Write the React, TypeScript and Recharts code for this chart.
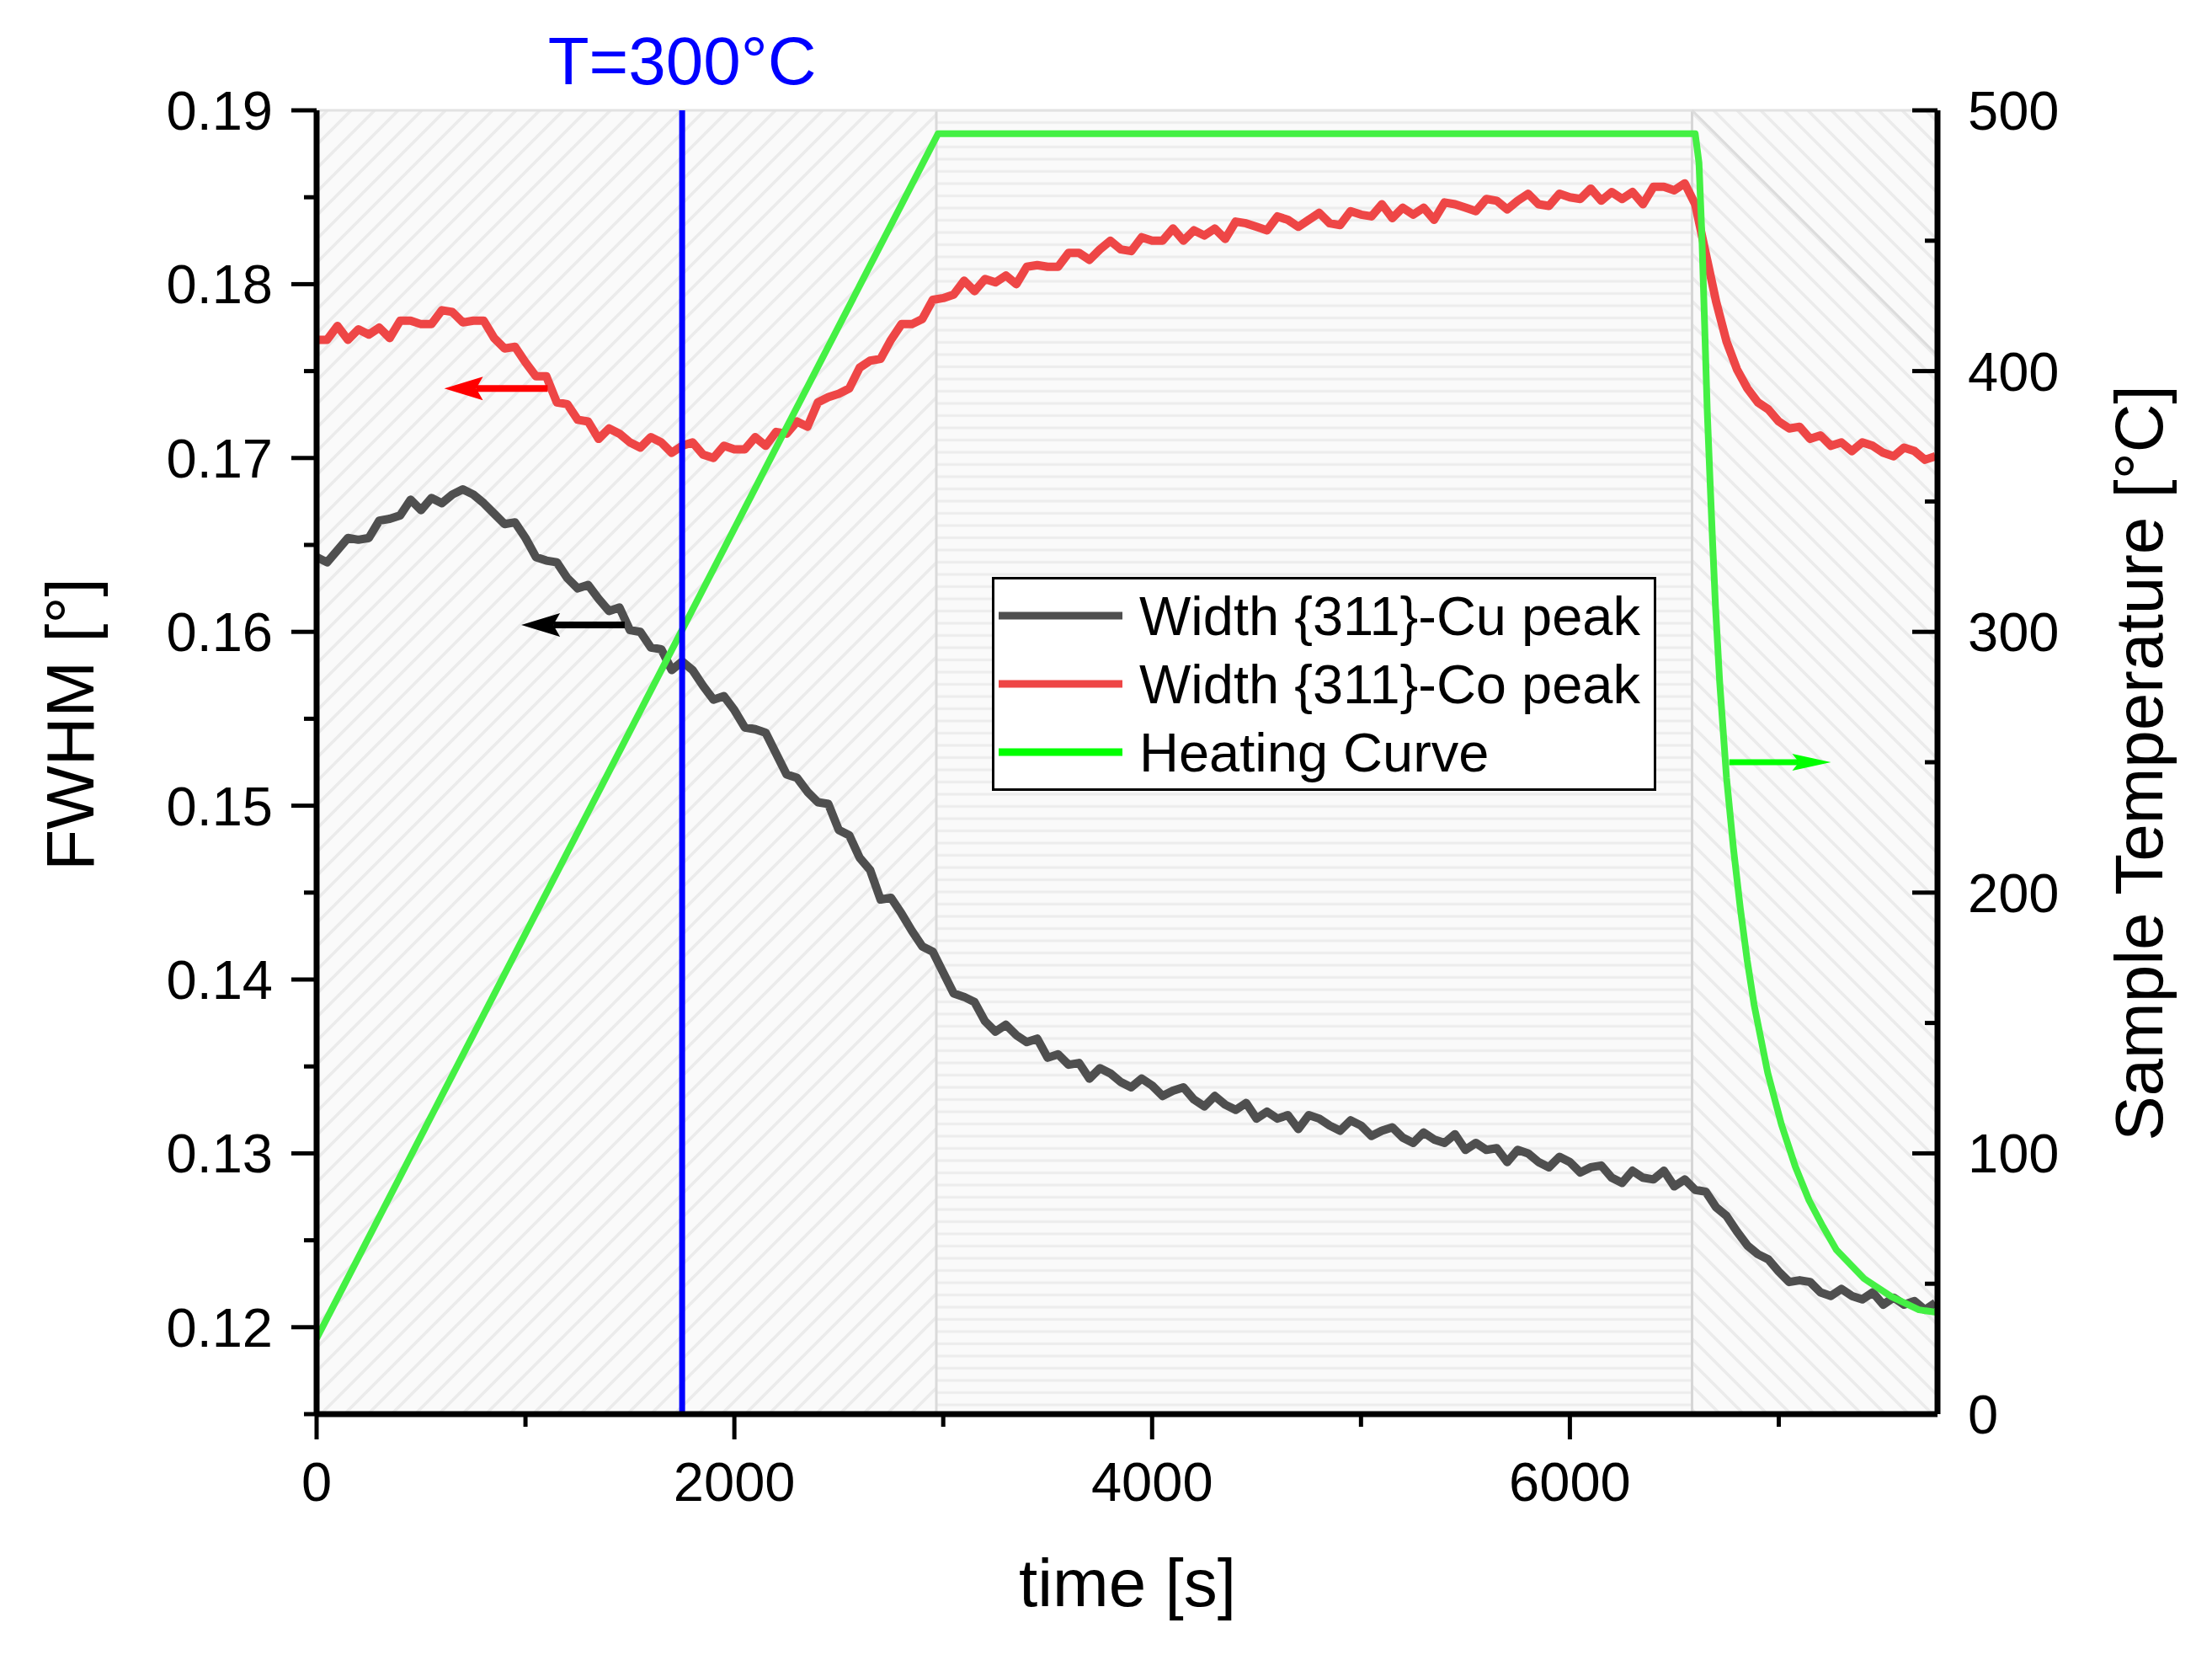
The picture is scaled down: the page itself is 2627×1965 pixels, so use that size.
import React from 'react';
import {
  ComposedChart,
  Line,
  XAxis,
  YAxis,
  ReferenceArea,
  ReferenceLine,
  Legend,
} from 'recharts';

// ---------- data ----------
const TIME_S = [
  0, 50, 100, 150, 200, 250, 300, 350, 400, 450, 500, 550, 600, 650, 700, 750, 800, 850, 900, 950,
  1000, 1050, 1100, 1150, 1200, 1250, 1300, 1350, 1400, 1450, 1500, 1550, 1600, 1650, 1700, 1750, 1800, 1850, 1900, 1950,
  2000, 2050, 2100, 2150, 2200, 2250, 2300, 2350, 2400, 2450, 2500, 2550, 2600, 2650, 2700, 2750, 2800, 2850, 2900, 2950,
  3000, 3050, 3100, 3150, 3200, 3250, 3300, 3350, 3400, 3450, 3500, 3550, 3600, 3650, 3700, 3750, 3800, 3850, 3900, 3950,
  4000, 4050, 4100, 4150, 4200, 4250, 4300, 4350, 4400, 4450, 4500, 4550, 4600, 4650, 4700, 4750, 4800, 4850, 4900, 4950,
  5000, 5050, 5100, 5150, 5200, 5250, 5300, 5350, 5400, 5450, 5500, 5550, 5600, 5650, 5700, 5750, 5800, 5850, 5900, 5950,
  6000, 6050, 6100, 6150, 6200, 6250, 6300, 6350, 6400, 6450, 6500, 6550, 6600, 6650, 6700, 6750, 6800, 6850, 6900, 6950,
  7000, 7050, 7100, 7150, 7200, 7250, 7300, 7350, 7400, 7450, 7500, 7550, 7600, 7650, 7700, 7750,
];

const CU_FWHM = [
  0.1643, 0.1640, 0.1647, 0.1654, 0.1653, 0.1654, 0.1664, 0.1665, 0.1667, 0.1676, 0.1670, 0.1677, 0.1674, 0.1679, 0.1682, 0.1679, 0.1674, 0.1668, 0.1662, 0.1663,
  0.1654, 0.1643, 0.1641, 0.1640, 0.1631, 0.1625, 0.1627, 0.1619, 0.1612, 0.1614, 0.1601, 0.1600, 0.1591, 0.1590, 0.1578, 0.1583, 0.1578, 0.1569, 0.1561, 0.1563,
  0.1555, 0.1545, 0.1544, 0.1542, 0.1530, 0.1518, 0.1516, 0.1508, 0.1502, 0.1501, 0.1486, 0.1483, 0.1470, 0.1463, 0.1446, 0.1447, 0.1438, 0.1428, 0.1419, 0.1416,
  0.1404, 0.1392, 0.1390, 0.1387, 0.1376, 0.1370, 0.1374, 0.1368, 0.1364, 0.1366, 0.1355, 0.1357, 0.1351, 0.1352, 0.1343, 0.1349, 0.1346, 0.1341, 0.1338, 0.1343,
  0.1339, 0.1333, 0.1336, 0.1338, 0.1331, 0.1327, 0.1333, 0.1328, 0.1325, 0.1329, 0.1320, 0.1324, 0.1320, 0.1322, 0.1314, 0.1322, 0.1320, 0.1316, 0.1313, 0.1319,
  0.1316, 0.1310, 0.1313, 0.1315, 0.1309, 0.1306, 0.1312, 0.1308, 0.1306, 0.1311, 0.1302, 0.1306, 0.1302, 0.1303, 0.1295, 0.1302, 0.1300, 0.1295, 0.1292, 0.1298,
  0.1295, 0.1289, 0.1292, 0.1293, 0.1286, 0.1283, 0.1290, 0.1286, 0.1285, 0.1290, 0.1281, 0.1285, 0.1279, 0.1278, 0.1269, 0.1264, 0.1255, 0.1247, 0.1242, 0.1239,
  0.1232, 0.1226, 0.1227, 0.1226, 0.1220, 0.1218, 0.1222, 0.1218, 0.1216, 0.1220, 0.1213, 0.1217, 0.1213, 0.1215, 0.1210, 0.1214,
];

const CO_FWHM = [
  0.1768, 0.1768, 0.1776, 0.1768, 0.1774, 0.1771, 0.1775, 0.1769, 0.1779, 0.1779, 0.1777, 0.1777, 0.1785, 0.1784, 0.1778, 0.1779, 0.1779, 0.1769, 0.1763, 0.1764,
  0.1755, 0.1747, 0.1747, 0.1732, 0.1731, 0.1722, 0.1721, 0.1711, 0.1717, 0.1714, 0.1709, 0.1706, 0.1712, 0.1709, 0.1703, 0.1707, 0.1709, 0.1702, 0.1700, 0.1707,
  0.1705, 0.1705, 0.1712, 0.1707, 0.1715, 0.1714, 0.1721, 0.1718, 0.1732, 0.1735, 0.1737, 0.1740, 0.1752, 0.1756, 0.1757, 0.1768, 0.1777, 0.1777, 0.1780, 0.1791,
  0.1792, 0.1794, 0.1802, 0.1796, 0.1803, 0.1801, 0.1805, 0.1800, 0.1810, 0.1811, 0.1810, 0.1810, 0.1818, 0.1818, 0.1814, 0.1820, 0.1825, 0.1820, 0.1819, 0.1827,
  0.1825, 0.1825, 0.1832, 0.1825, 0.1831, 0.1828, 0.1832, 0.1826, 0.1836, 0.1835, 0.1833, 0.1831, 0.1839, 0.1837, 0.1833, 0.1837, 0.1841, 0.1835, 0.1834, 0.1842,
  0.1840, 0.1839, 0.1846, 0.1838, 0.1844, 0.1840, 0.1844, 0.1837, 0.1847, 0.1846, 0.1844, 0.1842, 0.1849, 0.1848, 0.1843, 0.1848, 0.1852, 0.1846, 0.1845, 0.1852,
  0.1850, 0.1849, 0.1855, 0.1848, 0.1853, 0.1849, 0.1853, 0.1846, 0.1856, 0.1856, 0.1854, 0.1858, 0.1846, 0.1818, 0.1790, 0.1767, 0.1751, 0.1740, 0.1732, 0.1728,
  0.1721, 0.1717, 0.1718, 0.1711, 0.1713, 0.1707, 0.1709, 0.1704, 0.1709, 0.1707, 0.1703, 0.1701, 0.1706, 0.1704, 0.1699, 0.1701,
];

const HEAT_TIME_S = [
  0, 2975, 6600, 6618, 6631, 6645, 6658, 6671, 6684, 6697, 6717, 6750, 6783, 6816, 6849, 6882,
  6947, 7013, 7079, 7145, 7211, 7276, 7408, 7540, 7671, 7760,
];
const HEAT_TEMP_C = [
  29, 491, 491, 480, 454, 418, 384, 358, 333, 310, 281, 244, 217, 194, 174, 157,
  131, 111, 95, 82, 72, 63, 52, 45, 40, 39,
];

const X_TICKS = [0, 1000, 2000, 3000, 4000, 5000, 6000, 7000];
const X_LABELED = [0, 2000, 4000, 6000];
const FWHM_TICKS = [0.115, 0.12, 0.125, 0.13, 0.135, 0.14, 0.145, 0.15, 0.155, 0.16, 0.165, 0.17, 0.175, 0.18, 0.185, 0.19];
const TEMP_TICKS = [0, 50, 100, 150, 200, 250, 300, 350, 400, 450, 500];
const TEMP_LABELED = [0, 100, 200, 300, 400, 500];

const X_DOMAIN = [0, 7760];
const FWHM_DOMAIN = [0.115, 0.19];
const TEMP_DOMAIN = [0, 500];

// background regions (ramp, hold, cooling)
const REGION_EDGES_S = [0, 2967, 6585, 7760];
const MARK_TIME_S = 1750; // T = 300 °C

// annotation arrows: [tail, tip]
const ARROW_CO = [{ t: 1106, v: 0.174 }, { t: 611, v: 0.174 }];
const ARROW_CU = [{ t: 1475, v: 0.1604 }, { t: 980, v: 0.1604 }];
const ARROW_HEAT = [{ t: 6763, v: 250 }, { t: 7250, v: 250 }];

const SERIES_NAMES = ['Width {311}-Cu peak', 'Width {311}-Co peak', 'Heating Curve'];

// ---------- styling ----------
const FONT = '"Liberation Sans", Arial, Helvetica, sans-serif';
const W = 2611;
const H = 1949;
const PLOT_TOP = 123;
const LEFT_W = 368;
const RIGHT_W = 318;
const X_H = 278;

const cuData = TIME_S.map((t, i) => ({ t, v: CU_FWHM[i] }));
const coData = TIME_S.map((t, i) => ({ t, v: CO_FWHM[i] }));
const heatData = HEAT_TIME_S.map((t, i) => ({ t, v: HEAT_TEMP_C[i] }));

const LeftTick = (props: any) => {
  const { x, y, payload } = props;
  const v = payload.value;
  const major = Math.round(v * 1000) % 10 === 0;
  return (
    <g>
      <line x1={x} x2={x - (major ? 30 : 15)} y1={y} y2={y} stroke="#000" strokeWidth={5} />
      {major && (
        <text x={316} y={y} dy="0.355em" textAnchor="end" fontSize={65} fontFamily={FONT} fill="#000">
          {v.toFixed(2)}
        </text>
      )}
    </g>
  );
};

const RightTick = (props: any) => {
  const { x, y, payload } = props;
  const v = payload.value;
  const major = TEMP_LABELED.includes(v);
  return (
    <g>
      <line x1={x} x2={x - (major ? 30 : 15)} y1={y} y2={y} stroke="#000" strokeWidth={5} />
      {major && (
        <text x={2329} y={y} dy="0.355em" textAnchor="start" fontSize={65} fontFamily={FONT} fill="#000">
          {v}
        </text>
      )}
    </g>
  );
};

const BottomTick = (props: any) => {
  const { x, y, payload } = props;
  const v = payload.value;
  const major = X_LABELED.includes(v);
  return (
    <g>
      <line x1={x} x2={x} y1={y} y2={y + (major ? 30 : 15)} stroke="#000" strokeWidth={5} />
      {major && (
        <text x={x} y={1774} textAnchor="middle" fontSize={65} fontFamily={FONT} fill="#000">
          {v}
        </text>
      )}
    </g>
  );
};

const makeArrow = (color: string, head: number, half: number, shaft: number) => (props: any) => {
  const { x1, y1, x2, y2 } = props;
  const dx = x2 - x1;
  const dy = y2 - y1;
  const len = Math.sqrt(dx * dx + dy * dy) || 1;
  const ux = dx / len;
  const uy = dy / len;
  const px = -uy;
  const py = ux;
  const bx = x2 - ux * head;
  const by = y2 - uy * head;
  const nx = x2 - ux * (head - 8);
  const ny = y2 - uy * (head - 8);
  const pts = `${x2},${y2} ${bx + px * half},${by + py * half} ${nx},${ny} ${bx - px * half},${by - py * half}`;
  return (
    <g>
      <line x1={x1} y1={y1} x2={nx} y2={ny} stroke={color} strokeWidth={shaft} />
      <polygon points={pts} fill={color} />
    </g>
  );
};

const renderLegend = (props: any) => {
  const payload = [...(props.payload || [])].sort(
    (a: any, b: any) => SERIES_NAMES.indexOf(a.value) - SERIES_NAMES.indexOf(b.value)
  );
  const rows = [46, 127, 208];
  const swatch: Record<string, string> = { 'Heating Curve': '#00ff00' };
  return (
    <svg width={789} height={254} style={{ display: 'block' }}>
      <rect x={1.5} y={1.5} width={786} height={251} fill="#ffffff" stroke="#000" strokeWidth={3} />
      {payload.map((entry: any, i: number) => (
        <g key={entry.value}>
          <line x1={8} x2={155} y1={rows[i]} y2={rows[i]} stroke={swatch[entry.value] || entry.color} strokeWidth={9} />
          <text x={175} y={rows[i]} dy="0.355em" fontSize={65} fontFamily={FONT} fill="#000">
            {entry.value}
          </text>
        </g>
      ))}
    </svg>
  );
};

export default function App() {
  return (
    <ComposedChart width={W} height={H} margin={{ top: PLOT_TOP, right: 0, bottom: 0, left: 0 }}>
      <defs>
        <pattern id="hatchUp" patternUnits="userSpaceOnUse" width="28" height="28">
          <rect width="28" height="28" fill="#fafafa" />
          <path d="M-7,7 L7,-7 M0,28 L28,0 M21,35 L35,21" stroke="#ebebeb" strokeWidth="3.5" />
        </pattern>
        <pattern id="hatchFlat" patternUnits="userSpaceOnUse" width="20" height="14.5">
          <rect width="20" height="14.5" fill="#fafafa" />
          <line x1="0" x2="20" y1="7" y2="7" stroke="#ececec" strokeWidth="3" />
        </pattern>
        <pattern id="hatchDown" patternUnits="userSpaceOnUse" width="28" height="28">
          <rect width="28" height="28" fill="#fafafa" />
          <path d="M-7,21 L7,35 M0,0 L28,28 M21,-7 L35,7" stroke="#ebebeb" strokeWidth="3.5" />
        </pattern>
      </defs>

      <XAxis
        xAxisId="t"
        type="number"
        dataKey="t"
        domain={X_DOMAIN}
        allowDataOverflow
        ticks={X_TICKS}
        interval={0}
        height={X_H}
        tickSize={0}
        tickMargin={0}
        tickLine={false}
        axisLine={{ stroke: '#000', strokeWidth: 7 }}
        tick={BottomTick}
        label={() => (
          <text x={1331} y={1899} textAnchor="middle" fontSize={80} fontFamily={FONT} fill="#000">
            time [s]
          </text>
        )}
      />
      <YAxis
        yAxisId="fwhm"
        orientation="left"
        type="number"
        domain={FWHM_DOMAIN}
        allowDataOverflow
        ticks={FWHM_TICKS}
        interval={0}
        width={LEFT_W}
        tickSize={0}
        tickMargin={0}
        tickLine={false}
        axisLine={{ stroke: '#000', strokeWidth: 7 }}
        tick={LeftTick}
        label={() => (
          <text
            x={103}
            y={852}
            transform="rotate(-90 103 852)"
            textAnchor="middle"
            fontSize={80}
            fontFamily={FONT}
            fill="#000"
          >
            FWHM [°]
          </text>
        )}
      />
      <YAxis
        yAxisId="temp"
        orientation="right"
        type="number"
        domain={TEMP_DOMAIN}
        allowDataOverflow
        ticks={TEMP_TICKS}
        interval={0}
        width={RIGHT_W}
        tickSize={0}
        tickMargin={0}
        tickLine={false}
        axisLine={{ stroke: '#000', strokeWidth: 7 }}
        tick={RightTick}
        label={() => (
          <text
            x={2560}
            y={898}
            transform="rotate(-90 2560 898)"
            textAnchor="middle"
            fontSize={80}
            fontFamily={FONT}
            fill="#000"
          >
            Sample Temperature [°C]
          </text>
        )}
      />

      <ReferenceArea xAxisId="t" yAxisId="fwhm" x1={REGION_EDGES_S[0]} x2={REGION_EDGES_S[1]} fill="url(#hatchUp)" fillOpacity={1} stroke="none" />
      <ReferenceArea xAxisId="t" yAxisId="fwhm" x1={REGION_EDGES_S[1]} x2={REGION_EDGES_S[2]} fill="url(#hatchFlat)" fillOpacity={1} stroke="none" />
      <ReferenceArea xAxisId="t" yAxisId="fwhm" x1={REGION_EDGES_S[2]} x2={REGION_EDGES_S[3]} fill="url(#hatchDown)" fillOpacity={1} stroke="none" />
      <ReferenceLine xAxisId="t" yAxisId="fwhm" x={REGION_EDGES_S[1]} stroke="#dadada" strokeWidth={3} />
      <ReferenceLine xAxisId="t" yAxisId="fwhm" x={REGION_EDGES_S[2]} stroke="#d6d6d6" strokeWidth={3} />
      <ReferenceLine xAxisId="t" yAxisId="fwhm" y={FWHM_DOMAIN[1]} stroke="#e2e2e2" strokeWidth={3} />
      <ReferenceLine
        xAxisId="t"
        yAxisId="temp"
        segment={[{ x: REGION_EDGES_S[2], y: 500 }, { x: REGION_EDGES_S[3], y: 406 }]}
        stroke="#dcdcdc"
        strokeWidth={3}
      />

      <Line
        xAxisId="t"
        yAxisId="fwhm"
        data={cuData}
        dataKey="v"
        name={SERIES_NAMES[0]}
        stroke="#4f4f4f"
        strokeWidth={10}
        strokeLinejoin="round"
        dot={false}
        activeDot={false}
        isAnimationActive={false}
      />
      <Line
        xAxisId="t"
        yAxisId="fwhm"
        data={coData}
        dataKey="v"
        name={SERIES_NAMES[1]}
        stroke="#ee4646"
        strokeWidth={10}
        strokeLinejoin="round"
        dot={false}
        activeDot={false}
        isAnimationActive={false}
      />
      <Line
        xAxisId="t"
        yAxisId="temp"
        data={heatData}
        dataKey="v"
        name={SERIES_NAMES[2]}
        stroke="#44f044"
        strokeWidth={8}
        strokeLinejoin="round"
        dot={false}
        activeDot={false}
        isAnimationActive={false}
      />

      <ReferenceLine
        xAxisId="t"
        yAxisId="fwhm"
        x={MARK_TIME_S}
        stroke="#0000ff"
        strokeWidth={7}
        label={(p: any) => {
          const vb = p.viewBox || {};
          return (
            <text x={vb.x} y={92} textAnchor="middle" fontSize={80} fontFamily={FONT} fill="#0000ff">
              T=300°C
            </text>
          );
        }}
      />

      <ReferenceLine
        xAxisId="t"
        yAxisId="fwhm"
        segment={[{ x: ARROW_CO[0].t, y: ARROW_CO[0].v }, { x: ARROW_CO[1].t, y: ARROW_CO[1].v }]}
        shape={makeArrow('#ff0000', 46, 14, 8)}
      />
      <ReferenceLine
        xAxisId="t"
        yAxisId="fwhm"
        segment={[{ x: ARROW_CU[0].t, y: ARROW_CU[0].v }, { x: ARROW_CU[1].t, y: ARROW_CU[1].v }]}
        shape={makeArrow('#000000', 46, 14, 8)}
      />
      <ReferenceLine
        xAxisId="t"
        yAxisId="temp"
        segment={[{ x: ARROW_HEAT[0].t, y: ARROW_HEAT[0].v }, { x: ARROW_HEAT[1].t, y: ARROW_HEAT[1].v }]}
        shape={makeArrow('#00ff00', 46, 10, 7)}
      />

      <Legend
        layout="vertical"
        align="center"
        verticalAlign="middle"
        wrapperStyle={{ position: 'absolute', left: 1170, top: 677, width: 789, height: 254 }}
        content={renderLegend}
      />
    </ComposedChart>
  );
}
